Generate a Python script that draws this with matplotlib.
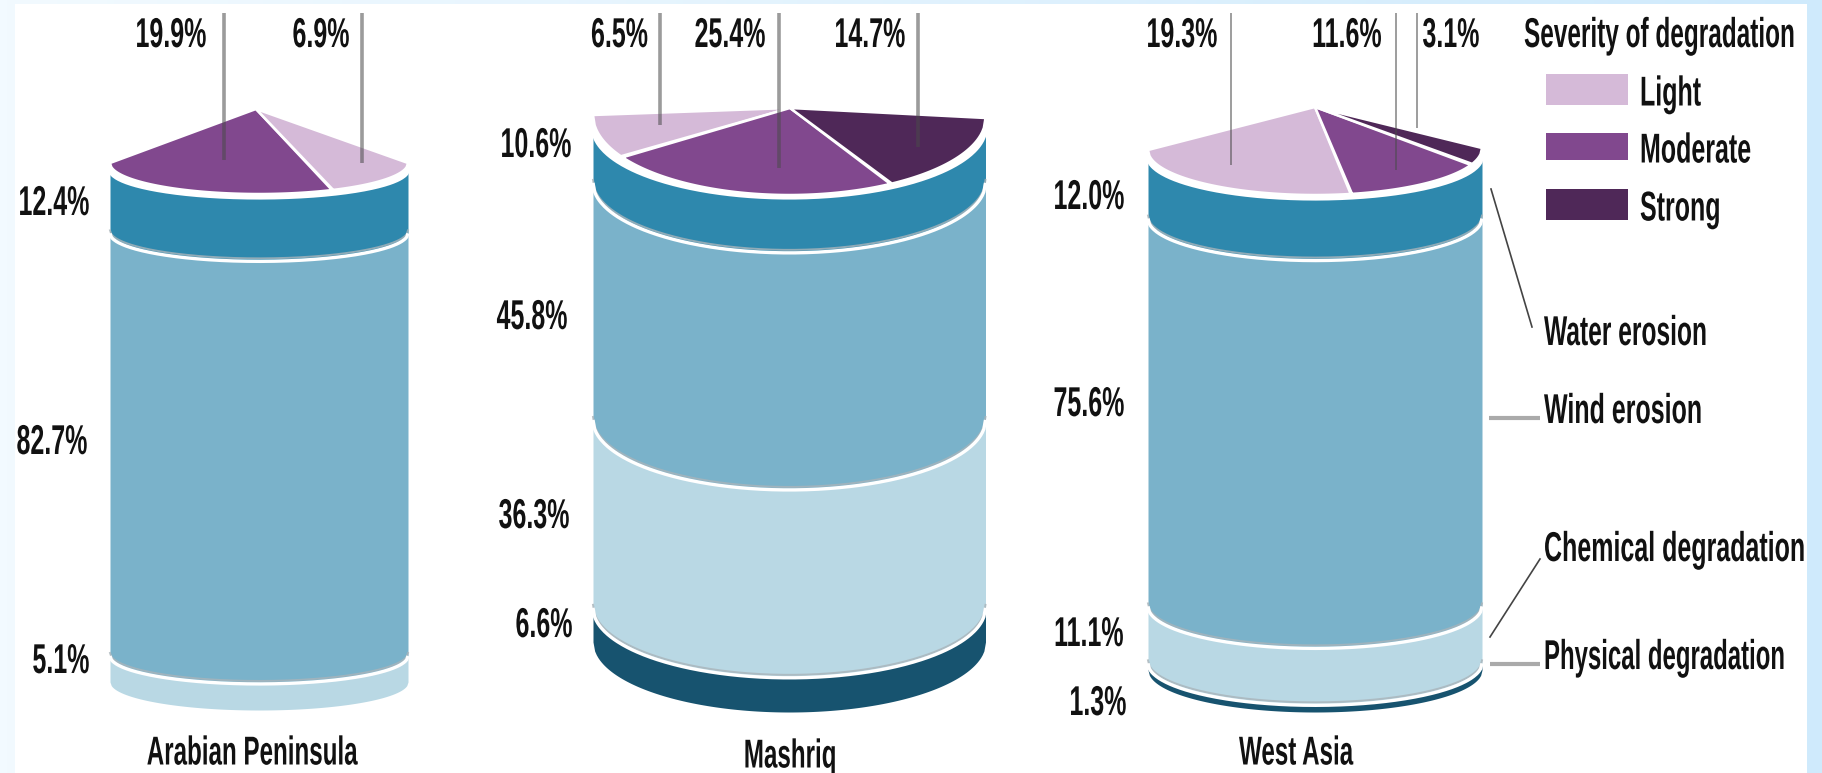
import numpy as np
import matplotlib
matplotlib.use("Agg")
import matplotlib.pyplot as plt
from matplotlib.patches import Rectangle
from matplotlib.patheffects import AbstractPathEffect
from matplotlib.transforms import Affine2D
from matplotlib.colors import to_rgb

# ---- data (percent) ----
regions = ["Arabian Peninsula", "Mashriq", "West Asia"]
water = [12.4, 10.6, 12.0]
wind = [82.7, 45.8, 75.6]
chemical = [5.1, 36.3, 11.1]
physical = [0.0, 6.6, 1.3]
light = [6.9, 6.5, 19.3]
moderate = [19.9, 25.4, 11.6]
strong = [0.0, 14.7, 3.1]
legend_title = "Severity of degradation"
severity_names = ["Light", "Moderate", "Strong"]
type_names = ["Water erosion", "Wind erosion", "Chemical degradation", "Physical degradation"]

# ---- styles / layout (pixels of the figure) ----
W, H = 1822, 773
C_LIGHT, C_MOD, C_STRONG = "#d5bad8", "#81488e", "#4f2858"
BAND_COLORS = ["#2e88ad", "#7ab2ca", "#b9d8e4", "#17536f"]
FONT = ["Liberation Sans", "DejaVu Sans"]

layout = [
    dict(xl=110, xr=408, rim=170, bottom=682, sag=28, corner=(163, 163), apex=(256, 109),
         lens=194, colors=[C_MOD, C_LIGHT],
         splits=[0.0, 0.745, 1.0], lw=3.0,
         top_x=[171, 321], top_lead=[(224, 160), (362, 163)], top_vals=[moderate[0], light[0]],
         side_x=[54, 52, 61], side_y=[200, 439, 658],
         name_x=252, name_y=750),
    dict(xl=593, xr=985.5, rim=128, bottom=642, sag=70, corner=(115, 118), apex=(790, 108),
         lens=195, colors=[C_LIGHT, C_MOD, C_STRONG],
         splits=[0.0, 0.074, 0.758, 1.0], lw=3.0,
         top_x=[619.5, 730, 870], top_lead=[(660, 125), (778.5, 168), (918, 147)],
         top_vals=[light[1], moderate[1], strong[1]],
         side_x=[536, 532, 534, 544], side_y=[142, 314, 513, 622],
         name_x=790, name_y=753),
    dict(xl=1148, xr=1482, rim=157, bottom=670, sag=42, corner=(150, 148), apex=(1315, 107),
         lens=195, colors=[C_LIGHT, C_MOD, C_STRONG],
         splits=[0.0, 0.608, 0.97, 1.0], lw=1.6,
         top_x=[1182, 1347, 1451], top_lead=[(1231, 165), (1396, 170), (1417, 128)],
         top_vals=[light[2], moderate[2], strong[2]],
         side_x=[1089, 1089, 1089, 1098], side_y=[194, 401, 631, 700],
         name_x=1296, name_y=750),
]


class TallGlyphs(AbstractPathEffect):
    """Stretch a text upward from its baseline, which gives the condensed look of the labels."""

    def __init__(self, sy):
        super().__init__()
        self.sy = sy

    def draw_path(self, renderer, gc, tpath, affine, rgbFace=None):
        base = affine.transform([[0.0, 0.0]])[0, 1]
        new = affine + Affine2D().translate(0, -base).scale(1, self.sy).translate(0, base)
        renderer.draw_path(gc, tpath, new, rgbFace)


fig = plt.figure(figsize=(W / 100, H / 100), dpi=100)
ax = fig.add_axes([0, 0, 1, 1])
ax.set_xlim(0, W)
ax.set_ylim(H, 0)
ax.axis("off")

# page background: pale blue gradient behind a white panel
c0, c1 = np.array(to_rgb("#f2faff")), np.array(to_rgb("#cfeafc"))
grad = np.linspace(0, 1, 256)[None, :, None] * (c1 - c0) + c0
ax.imshow(grad, extent=(0, W, H, 0), aspect="auto", zorder=0)
ax.add_patch(Rectangle((15, 4), 1792, H, fc="white", ec="none", zorder=1))


def txt(x, y, s, ha="center", size=30, sx=0.6):
    """y is the middle of the capitals; size is the drawn height in points, sx the width ratio."""
    ax.text(x, y + 0.5 * size, s, ha=ha, va="baseline", fontsize=size * sx, family=FONT, fontweight="bold",
            color="#111111", zorder=8, path_effects=[TallGlyphs(1 / sx)])


for i, p in enumerate(layout):
    xl, xr = p["xl"], p["xr"]
    xs = np.linspace(xl, xr, 240)
    u = (xs - 0.5 * (xl + xr)) / (0.5 * (xr - xl))
    arc = np.sqrt(np.clip(1 - u ** 2, 0, 1))
    shares = [water[i], wind[i], chemical[i], physical[i]]
    px_per = (p["bottom"] - p["rim"]) / sum(shares)
    cum = np.concatenate([[0], np.cumsum(shares)])
    # stacked bands, top to bottom, as curved cylinder slices
    for k, v in enumerate(shares):
        if v <= 0:
            continue
        y0 = p["rim"] + cum[k] * px_per + p["sag"] * arc
        y1 = p["rim"] + cum[k + 1] * px_per + p["sag"] * arc
        ax.fill_between(xs, y0, y1, color=BAND_COLORS[k], lw=0, zorder=3)
    for k in range(1, len(shares)):
        if shares[k] <= 0:
            continue
        yb = p["rim"] + cum[k] * px_per + p["sag"] * arc
        ax.plot(xs, yb - 3, color="#a9b4ba", lw=1.4, alpha=0.8, zorder=4)
        ax.plot(xs, yb, color="white", lw=2.4, zorder=4, solid_capstyle="butt")

    # top of the cylinder: sectors of the degraded share, seen from the apex
    cl, cr = p["corner"]
    cornery = cl + (cr - cl) * (xs - xl) / (xr - xl)
    lens = cornery + (p["lens"] - cornery) * arc
    ax.plot(xs, p["rim"] + p["sag"] * arc - 0.5, color="white", lw=3.0, zorder=4)
    ax_, ay_ = p["apex"]
    sp = p["splits"]
    for j, col in enumerate(p["colors"]):
        x0, x1 = xl + sp[j] * (xr - xl), xl + sp[j + 1] * (xr - xl)
        m = (xs >= x0 - 1e-6) & (xs <= x1 + 1e-6)
        ax.fill(np.r_[ax_, xs[m]], np.r_[ay_, lens[m]], fc=col, ec="white", lw=1.8, zorder=5, joinstyle="miter")

    # leaders + labels for severity shares
    for tx, (lx, ly), v in zip(p["top_x"], p["top_lead"], p["top_vals"]):
        ax.plot([lx, lx], [13, ly], color="#4a4a4a", alpha=0.55, lw=p["lw"] * 0.72 * 1.2, zorder=6, solid_capstyle="butt")
        txt(tx, 32, f"{v:.1f}%")
    # side labels for the band shares
    vis = [v for v in shares if v > 0]
    for sxp, syp, v in zip(p["side_x"], p["side_y"], vis):
        txt(sxp, syp, f"{v:.1f}%")
    txt(p["name_x"], p["name_y"], regions[i], size=29)

# severity key
txt(1524, 32, legend_title, ha="left", size=30, sx=0.585)
for name, col, y0, y1 in zip(severity_names, [C_LIGHT, C_MOD, C_STRONG], [74, 133, 189], [105, 160, 220]):
    ax.add_patch(Rectangle((1546, y0), 82, y1 - y0, fc=col, ec="none", zorder=5))
    txt(1640, 0.5 * (y0 + y1) + 1, name, ha="left")

# labels of the degradation types with their leaders
txt(1544, 330, type_names[0], ha="left", sx=0.59)
txt(1544, 408, type_names[1], ha="left")
txt(1544, 546, type_names[2], ha="left")
txt(1544, 654, type_names[3], ha="left", sx=0.575)
ax.plot([1491, 1532], [189, 327], color="#444444", lw=1.2, zorder=6)
ax.plot([1489, 1540], [418, 418], color="#aaaaaa", lw=3.0, zorder=6, solid_capstyle="butt")
ax.plot([1490, 1540], [637, 559], color="#444444", lw=1.2, zorder=6)
ax.plot([1490, 1540], [664, 664], color="#aaaaaa", lw=3.0, zorder=6, solid_capstyle="butt")

fig.savefig("out.png", dpi=100)
